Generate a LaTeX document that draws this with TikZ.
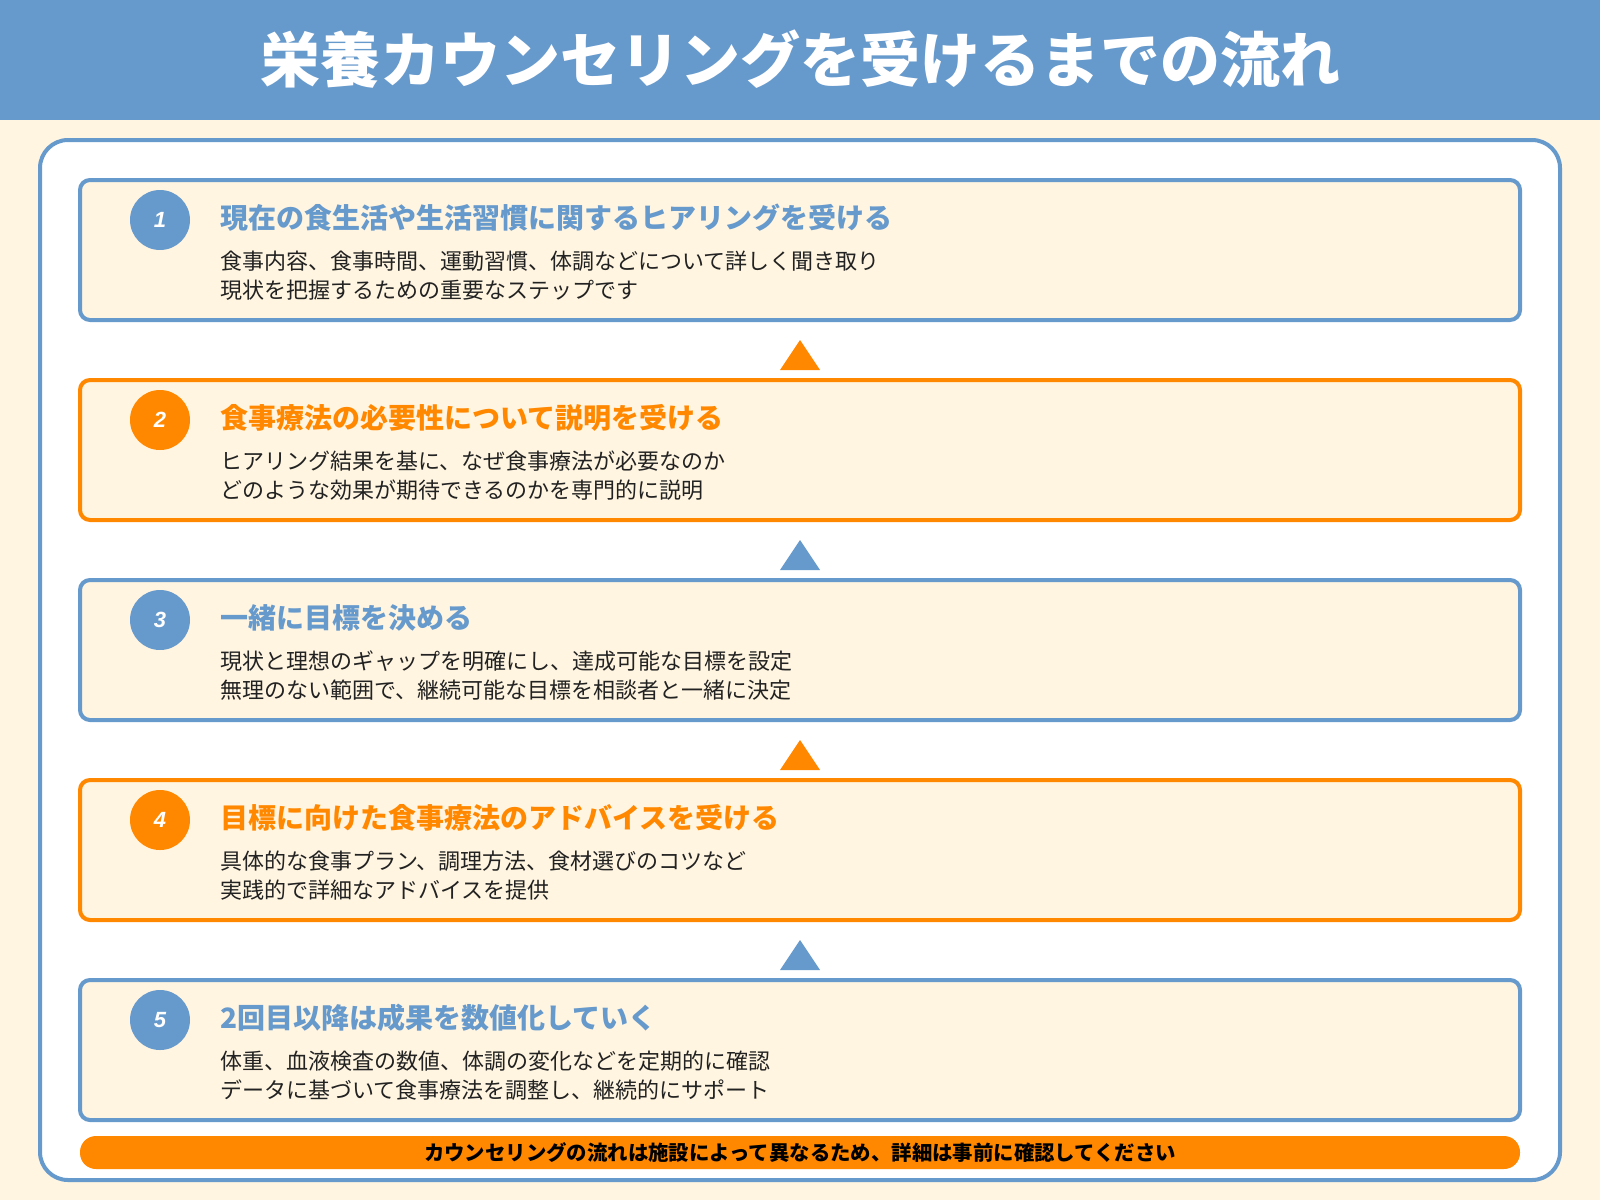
\documentclass[tikz,border=0pt]{standalone}
\usepackage{fontspec}
\newfontfamily\jp{Noto Sans CJK JP}
\newfontfamily\lat{Liberation Sans}
\definecolor{cblue}{HTML}{6699CC}
\definecolor{corange}{HTML}{FF8800}
\definecolor{ccream}{HTML}{FFF5E1}
\definecolor{ctext}{HTML}{222222}
\tikzset{
  headtxt/.style={anchor=base, inner sep=0, text=white, font=\jp\bfseries\fontsize{60}{70}\selectfont},
  stepbox/.style={draw=#1, line width=4pt, fill=ccream, rounded corners=10pt, minimum width=1440pt, minimum height=140pt, inner sep=0},
  numcirc/.style={circle, fill=#1, minimum size=60pt, inner sep=0, text=white, font=\lat\bfseries\itshape\fontsize{22}{24}\selectfont},
  titletxt/.style={anchor=base west, inner sep=0, text=#1, font=\jp\bfseries\fontsize{28}{32}\selectfont},
  desctxt/.style={anchor=base west, inner sep=0, text=ctext, font=\jp\fontsize{22}{26}\selectfont},
  footbar/.style={fill=corange, rounded corners=16pt, minimum width=1440pt, minimum height=33pt, inner sep=0, text=black, font=\jp\bfseries\fontsize{20.4}{23}\selectfont},
}
\begin{document}
\begin{tikzpicture}[x=1pt,y=-1pt]
\useasboundingbox (0,0) rectangle (1600,1200);
\fill[ccream] (0,0) rectangle (1600,1200);
\fill[cblue] (0,0) rectangle (1600,120);
\node[headtxt] (head) at (800,82) {栄養カウンセリングを受けるまでの流れ};
\draw[cblue, line width=4pt, fill=white, rounded corners=28pt] (40,140) rectangle (1560,1180);
\foreach \i/\c/\t/\da/\db in {
  1/cblue/現在の食生活や生活習慣に関するヒアリングを受ける/食事内容、食事時間、運動習慣、体調などについて詳しく聞き取り/現状を把握するための重要なステップです,
  2/corange/食事療法の必要性について説明を受ける/ヒアリング結果を基に、なぜ食事療法が必要なのか/どのような効果が期待できるのかを専門的に説明,
  3/cblue/一緒に目標を決める/現状と理想のギャップを明確にし、達成可能な目標を設定/無理のない範囲で、継続可能な目標を相談者と一緒に決定,
  4/corange/目標に向けた食事療法のアドバイスを受ける/具体的な食事プラン、調理方法、食材選びのコツなど/実践的で詳細なアドバイスを提供,
  5/cblue/2回目以降は成果を数値化していく/体重、血液検査の数値、体調の変化などを定期的に確認/データに基づいて食事療法を調整し、継続的にサポート}{
  \pgfmathsetmacro\yt{180+200*(\i-1)}
  \node[stepbox=\c] (b\i) at (800,\yt+70) {};
  \node[numcirc=\c] (n\i) at (160,\yt+40) {\i};
  \node[titletxt=\c] (t\i) at (220,\yt+48) {\t};
  \node[desctxt] (da\i) at (220,\yt+89) {\da};
  \node[desctxt] (db\i) at (220,\yt+118) {\db};
  \ifnum\i>1
    \fill[\c] (780,\yt-10) -- (820,\yt-10) -- (800,\yt-40) -- cycle;
  \fi
}
\node[footbar] (foot) at (800,1152.5) {カウンセリングの流れは施設によって異なるため、詳細は事前に確認してください};
\end{tikzpicture}
\end{document}
